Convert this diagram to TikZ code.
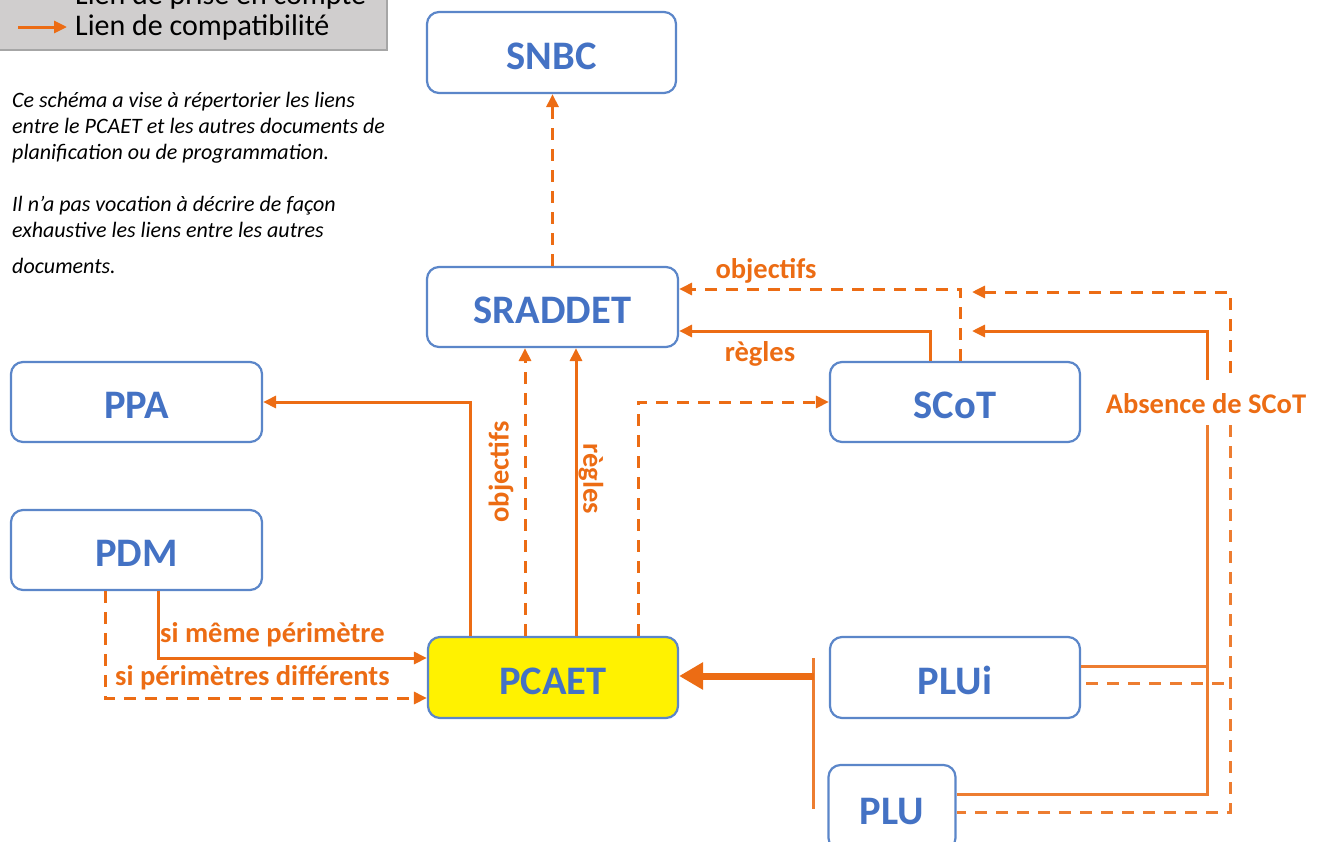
\documentclass[tikz,border=0pt]{standalone}
\usepackage{fontspec}
\setmainfont{Carlito}
\usetikzlibrary{arrows.meta,calc}
\definecolor{org}{RGB}{236,108,20}
\definecolor{orgl}{RGB}{237,125,49}
\definecolor{bblue}{RGB}{91,134,201}
\definecolor{tblue}{RGB}{68,114,196}
\definecolor{lgray}{RGB}{208,206,206}
\definecolor{lborder}{RGB}{166,166,166}
\tikzset{
  docbox/.style={draw=bblue, line width=2.2pt, rounded corners=12pt, fill=white,
    minimum width=250pt, minimum height=80pt, text=tblue, text height=33pt, text depth=0pt,
    font=\fontsize{40.5}{44}\selectfont\bfseries, inner sep=0pt},
  lbl/.style={text=org, font=\fontsize{28.5}{32}\selectfont\bfseries, inner sep=0pt},
  note/.style={anchor=base west, font=\fontsize{22}{25}\selectfont\itshape, inner sep=0pt},
  sarr/.style={draw=org, line width=3pt, -{Triangle[length=13pt,width=12pt]}},
  darr/.style={draw=org, line width=3pt, dash pattern=on 12pt off 9pt, -{Triangle[length=13pt,width=12pt]}},
  sline/.style={draw=orgl, line width=3pt},
  dline/.style={draw=orgl, line width=3pt, dash pattern=on 12pt off 9pt},
  thickarr/.style={draw=org, line width=7pt, -{Triangle[length=24pt,width=26pt]}},
}
\begin{document}
\begin{tikzpicture}[x=1pt,y=-1pt]
\useasboundingbox (0,0) rectangle (1325,841);
\clip (0,0) rectangle (1325,841);
% legend
\draw[lborder, fill=lgray, line width=1.2pt] (-2,-40) rectangle (387,50);
\node[anchor=base west, inner sep=0pt, font=\fontsize{30}{33}\selectfont] (leg1) at (75,4) {Lien de prise en compte};
\node[anchor=base west, inner sep=0pt, font=\fontsize{30}{33}\selectfont] (leg2) at (75,35) {Lien de compatibilité};
\coordinate (l1a) at (18,-15); \coordinate (l2a) at (18,27);
\draw[darr] (l1a) -- ([xshift=-8pt]l1a -| leg1.west);
\draw[sarr] (l2a) -- ([xshift=-8pt]l2a -| leg2.west);
% notes
\node[note] (n1) at (12,107) {Ce schéma a vise à répertorier les liens};
\node[note] (n2) at (12,133) {entre le PCAET et les autres documents de};
\node[note] (n3) at (12,159) {planification ou de programmation.};
\node[note] (n4) at (12,211) {Il n’a pas vocation à décrire de façon};
\node[note] (n5) at (12,237) {exhaustive les liens entre les autres};
\node[note] (n6) at (12,273) {documents.};
% boxes
\node[docbox, minimum width=249pt, minimum height=81pt] (SNBC) at (551.5,52.5) {SNBC};
\node[docbox, minimum width=251pt] (SRADDET) at (552.5,307) {SRADDET};
\node[docbox, minimum width=251pt] (PPA) at (136.5,402) {PPA};
\node[docbox, minimum width=251pt] (PDM) at (136.5,550) {PDM};
\node[docbox, fill=yellow, minimum height=81pt] (PCAET) at (553,677.5) {PCAET};
\node[docbox] (SCoT) at (955,402) {SCoT};
\node[docbox, minimum height=81pt] (PLUi) at (955,677.5) {PLUi};
\node[docbox, minimum width=127pt, minimum height=85pt] (PLU) at (892,807.5) {PLU};
% SRADDET -> SNBC
\draw[darr] (SRADDET.north) -- (SRADDET.north |- SNBC.south);
% PCAET links
\draw[sarr] ([xshift=-83pt]PCAET.north) |- (PPA.east);
\draw[darr] ([xshift=-28pt]PCAET.north) -- ([xshift=-28pt]PCAET.north |- SRADDET.south);
\draw[sarr] ([xshift=23pt]PCAET.north) -- ([xshift=23pt]PCAET.north |- SRADDET.south);
\draw[darr] ([xshift=85pt]PCAET.north) |- (SCoT.west);
\node[lbl, rotate=90] (obj1) at (501,472) {objectifs};
\node[lbl, rotate=-90] (reg1) at (591,479) {règles};
% SCoT -> SRADDET
\draw[sarr] ([xshift=-25pt]SCoT.north) |- ([yshift=-24pt]SRADDET.east);
\draw[darr] ([xshift=5pt]SCoT.north) |- ([yshift=18pt]SRADDET.east);
\node[lbl] (obj2) at (766,271) {objectifs};
\node[lbl] (reg2) at (760,354) {règles};
% Absence de SCoT
\node[lbl] (abs) at (1206,404) {Absence de SCoT};
\coordinate (a1) at (1207,380); \coordinate (a2) at (1230,373);
\coordinate (t1) at (972,331); \coordinate (t2) at (972,292);
\draw[sarr] (a1) |- (t1);
\draw[darr] (a2) |- (t2);
\coordinate (b1) at (1207,425); \coordinate (b2) at (1230,425);
\draw[sline] (b1) |- ([yshift=13.5pt]PLU.east);
\draw[dline] (b2) |- ([yshift=-4.5pt]PLU.east);
\draw[sline] ([yshift=11.5pt]PLUi.east) -- ([yshift=11.5pt]PLUi.east -| b1);
\draw[dline] ([xshift=5pt,yshift=-5.5pt]PLUi.east) -- ([yshift=-5.5pt]PLUi.east -| b2);
% PLUi / PLU -> PCAET
\coordinate (bt) at (813,658); \coordinate (bb) at (813,809);
\draw[sline] (bt) -- (bb);
\coordinate (th) at (814,676);
\draw[thickarr] (th) -- (th -| PCAET.east);
% PDM -> PCAET
\draw[sarr] ([xshift=21.5pt]PDM.south) |- ([yshift=19.5pt]PCAET.west);
\draw[darr] ([xshift=-31.5pt]PDM.south) |- ([yshift=-20.5pt]PCAET.west);
\node[lbl, anchor=west] (sm) at (160,635) {si même périmètre};
\node[lbl, anchor=west] (sd) at (115,678) {si périmètres différents};
\end{tikzpicture}
\end{document}
